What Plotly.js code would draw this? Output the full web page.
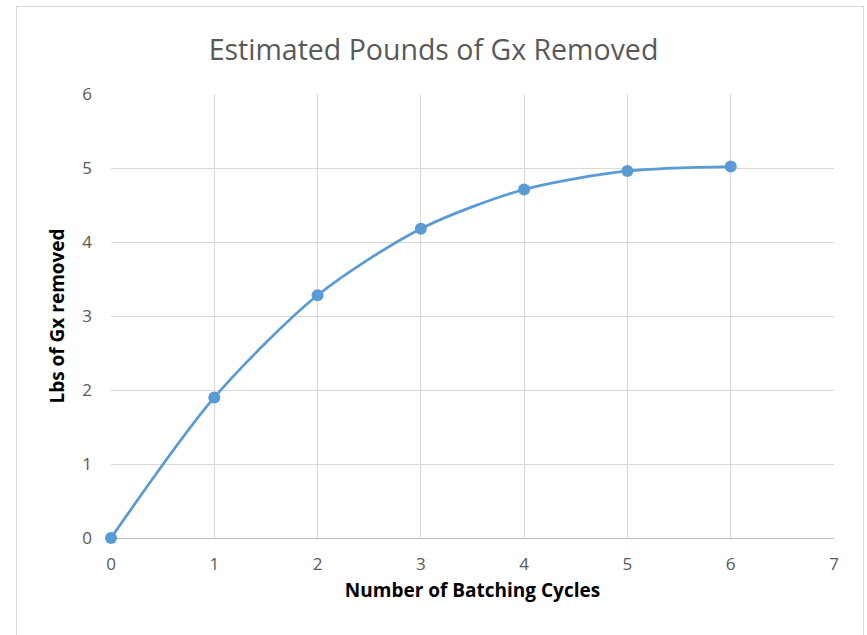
<!DOCTYPE html>
<html>
<head>
<meta charset="utf-8">
<script src="https://cdn.plot.ly/plotly-3.0.1.min.js"></script>
<style>
  html, body { margin: 0; padding: 0; background: #fff; }
  #chart { width: 867px; height: 635px; }
  #frame { position: absolute; left: 16px; top: 6px; width: 846px; height: 640px; border: 1px solid #D9D9D9; pointer-events: none; }
</style>
</head>
<body>
<div id="chart"></div>
<div id="frame"></div>
<script>
const cycles = [0, 1, 2, 3, 4, 5, 6];
const lbsRemoved = [0, 1.9, 3.28, 4.18, 4.71, 4.96, 5.02];
const titleText = "Estimated Pounds of Gx Removed";
const xTitle = "Number of Batching Cycles";
const yTitle = "Lbs of Gx removed";

const fontStack = "'Open Sans', 'Noto Sans', sans-serif";

Plotly.newPlot("chart", [{
  x: cycles,
  y: lbsRemoved,
  mode: "lines+markers",
  type: "scatter",
  cliponaxis: false,
  line: { color: "#5B9BD5", width: 2.75, shape: "spline", smoothing: 0.8 },
  marker: { color: "#5B9BD5", size: 12 },
  hoverinfo: "x+y"
}], {
  width: 867,
  height: 635,
  margin: { l: 111, r: 33, t: 94, b: 97 },
  paper_bgcolor: "#fff",
  plot_bgcolor: "#fff",
  showlegend: false,
  title: {
    text: titleText,
    font: { family: fontStack, size: 28.5, color: "#595959" },
    x: 0.5, xanchor: "center",
    y: 0.921, yanchor: "middle"
  },
  xaxis: {
    range: [0, 7],
    dtick: 1,
    tick0: 0,
    showgrid: true,
    gridcolor: "#D9D9D9",
    gridwidth: 1,
    zeroline: false,
    showline: false,
    ticks: "",
    ticklabelstandoff: 14,
    tickfont: { family: fontStack, size: 17, color: "#595959" },
    title: { text: xTitle, font: { family: fontStack, size: 19, color: "#000", weight: "bold" }, standoff: 9 },
    fixedrange: true
  },
  yaxis: {
    range: [0, 6],
    dtick: 1,
    showgrid: true,
    gridcolor: "#D9D9D9",
    gridwidth: 1,
    zeroline: true,
    zerolinecolor: "#BFBFBF",
    zerolinewidth: 1,
    showline: false,
    ticks: "",
    ticklabelstandoff: 18,
    tickfont: { family: fontStack, size: 17, color: "#595959" },
    title: { text: yTitle, font: { family: fontStack, size: 19, color: "#000", weight: "bold" }, standoff: 12 },
    fixedrange: true
  }
}, { displayModeBar: false });
</script>
</body>
</html>
